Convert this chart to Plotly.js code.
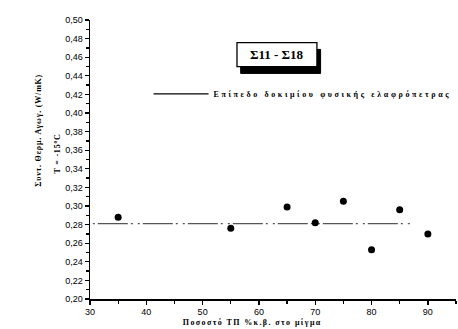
<!DOCTYPE html>
<html>
<head>
<meta charset="utf-8">
<script src="https://cdn.plot.ly/plotly-3.0.1.min.js"></script>
<style>
html,body{margin:0;padding:0;background:#fff;}
#chart{width:458px;height:329px;}
.legendtext { letter-spacing: 2.6px; }
g.annotation[data-index="1"] text { letter-spacing: 0.8px; }
g.annotation[data-index="2"] text { letter-spacing: 0.8px; }
g.annotation[data-index="3"] text { letter-spacing: 1.4px; }
</style>
</head>
<body>
<div id="chart"></div>
<script>
const percent = [35, 55, 65, 70, 75, 80, 85, 90];
const conductivity = [0.288, 0.276, 0.299, 0.282, 0.305, 0.253, 0.296, 0.270];
const refX = [30.5, 87];
const refY = [0.281, 0.281];
const refName = "Επίπεδο δοκιμίου φυσικής ελαφρόπετρας";
const boxLabel = "Σ11 - Σ18";
const xTitle = "Ποσοστό ΤΠ %κ.β. στο μίγμα";
const yTitle1 = "Συντ. Θερμ. Αγωγ. (W/mK)";
const yTitle2 = "T = -15<sup>o</sup>C";

const serif = "Liberation Serif, Times New Roman, serif";
const sans = "Liberation Sans, Arial, sans-serif";

const data = [
  {x: refX, y: refY, mode: "lines", showlegend: false,
   line: {color: "#555", width: 1.2, dash: "2px,3px,30px,3px,2px,5px"}, hoverinfo: "skip"},
  {x: percent, y: conductivity, mode: "markers", showlegend: false,
   marker: {color: "#000", size: 7}},
  {x: [null], y: [null], mode: "lines", name: refName, showlegend: true,
   line: {color: "#000", width: 1.2}}
];

const bx0 = 0.4016, bx1 = 0.620, by0 = 0.8326, by1 = 0.9186, sx = 0.010, sy = 0.024;

const layout = {
  width: 458, height: 329,
  margin: {l: 90, r: 2, t: 20, b: 30, autoexpand: false},
  paper_bgcolor: "#fff", plot_bgcolor: "#fff",
  separators: ",.",
  showlegend: true,
  legend: {x: 0.16, y: 0.735, xanchor: "left", yanchor: "middle", bgcolor: "rgba(0,0,0,0)",
    itemwidth: 55,
    font: {family: serif, size: 8, color: "#000", weight: "bold"}},
  xaxis: {range: [30, 95], showgrid: false, zeroline: false,
    showline: true, linecolor: "#000", linewidth: 1.5,
    ticks: "outside", ticklen: 4, tickwidth: 1.3, tickcolor: "#000",
    tick0: 30, dtick: 10,
    minor: {dtick: 5, ticks: "outside", ticklen: 3, tickcolor: "#000", tickwidth: 1.3},
    tickfont: {family: sans, size: 9, color: "#000"}},
  yaxis: {range: [0.20, 0.50], showgrid: false, zeroline: false,
    showline: true, linecolor: "#000", linewidth: 1.5,
    ticks: "outside", ticklen: 4, tickwidth: 1.3, tickcolor: "#000",
    tick0: 0.20, dtick: 0.02, tickformat: ".2f",
    minor: {dtick: 0.01, ticks: "outside", ticklen: 3, tickcolor: "#000", tickwidth: 1.3},
    tickfont: {family: sans, size: 9, color: "#000"}},
  shapes: [
    {type: "rect", xref: "paper", yref: "paper", x0: bx0 + sx, x1: bx1 + sx, y0: by0 - sy, y1: by1 - sy,
     fillcolor: "#000", line: {color: "#000", width: 1}},
    {type: "rect", xref: "paper", yref: "paper", x0: bx0, x1: bx1, y0: by0, y1: by1,
     fillcolor: "#fff", line: {color: "#000", width: 1.3}}
  ],
  annotations: [
    {xref: "paper", yref: "paper", x: (bx0 + bx1) / 2, y: (by0 + by1) / 2,
     text: "<b>" + boxLabel + "</b>", showarrow: false,
     font: {family: serif, size: 13, color: "#000"}, xanchor: "center", yanchor: "middle"},
    {xref: "paper", yref: "paper", x: -0.142, y: 0.605, textangle: -90,
     text: "<b>" + yTitle1 + "</b>", showarrow: false,
     font: {family: serif, size: 8, color: "#000"}, xanchor: "center", yanchor: "middle"},
    {xref: "paper", yref: "paper", x: -0.09, y: 0.52, textangle: -90,
     text: "<b>" + yTitle2 + "</b>", showarrow: false,
     font: {family: serif, size: 8, color: "#000"}, xanchor: "center", yanchor: "middle"},
    {xref: "paper", yref: "paper", x: 0.445, y: -0.085,
     text: "<b>" + xTitle + "</b>", showarrow: false,
     font: {family: serif, size: 8, color: "#000"}, xanchor: "center", yanchor: "middle"}
  ]
};

Plotly.newPlot("chart", data, layout, {displayModeBar: false, staticPlot: true});
</script>
</body>
</html>
